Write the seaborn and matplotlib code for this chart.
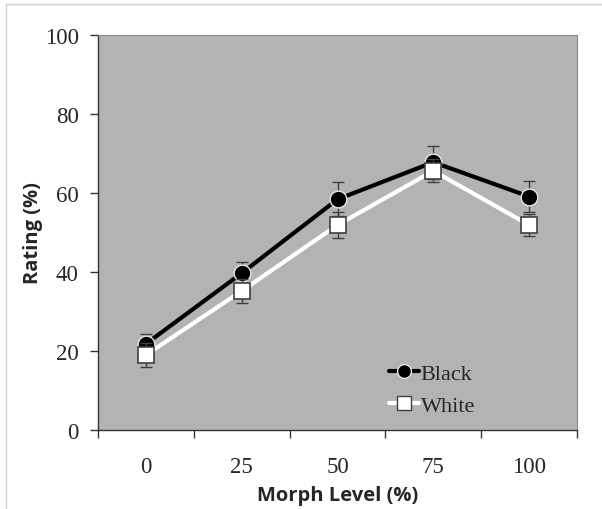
import matplotlib
matplotlib.use("Agg")
import matplotlib.pyplot as plt
import seaborn as sns
import pandas as pd
from matplotlib.lines import Line2D

# values
morph_levels = ["0", "25", "50", "75", "100"]
black_rating = [21.8, 39.7, 58.4, 67.8, 59.1]
black_err = [2.6, 2.9, 4.3, 4.2, 4.0]
white_rating = [19.0, 35.2, 51.9, 65.6, 51.9]
white_err = [3.1, 3.0, 3.4, 2.9, 2.7]

df = pd.DataFrame({
    "Morph Level": morph_levels * 2,
    "Rating": black_rating + white_rating,
    "Face": ["Black"] * 5 + ["White"] * 5,
})

sns.set_style("ticks")
fig = plt.figure(figsize=(6.02, 5.10), dpi=100)
ax = fig.add_axes([98 / 602, 1 - 431 / 510, 479 / 602, 395 / 510])
ax.set_facecolor("#b3b3b3")

# error bars first so markers sit on top
ax.errorbar(morph_levels, black_rating, yerr=black_err, fmt="none",
            ecolor="#404040", elinewidth=1, capsize=4, capthick=1, zorder=2)
ax.errorbar(morph_levels, white_rating, yerr=white_err, fmt="none",
            ecolor="#404040", elinewidth=1, capsize=4, capthick=1, zorder=4)

sns.lineplot(data=df[df["Face"] == "Black"], x="Morph Level", y="Rating",
             color="black", linewidth=3, marker="o", markersize=12,
             markerfacecolor="black", markeredgecolor="#e6e6e6",
             markeredgewidth=1, ax=ax, zorder=3, legend=False)
sns.lineplot(data=df[df["Face"] == "White"], x="Morph Level", y="Rating",
             color="white", linewidth=3, marker="s", markersize=12,
             markerfacecolor="white", markeredgecolor="#404040",
             markeredgewidth=1.2, ax=ax, zorder=5, legend=False)

ax.set_xlim(-0.5, 4.5)
ax.set_ylim(0, 100)
ax.set_yticks([0, 20, 40, 60, 80, 100])

# x ticks sit on category boundaries, labels in the middle
ax.set_xticks([-0.5, 0.5, 1.5, 2.5, 3.5, 4.5])
ax.set_xticklabels([])
ax.set_xticks(range(5), minor=True)
ax.set_xticklabels(morph_levels, minor=True)
ax.tick_params(axis="x", which="major", direction="out", length=6, width=1, color="#333333")
ax.tick_params(axis="x", which="minor", length=0, pad=19)
ax.tick_params(axis="y", direction="out", length=6, width=1, color="#333333", pad=8)

for lab in ax.get_xticklabels(minor=True) + ax.get_yticklabels():
    lab.set_fontfamily("Liberation Serif")
    lab.set_fontsize(16.5)

for side in ["left", "bottom"]:
    ax.spines[side].set_color("#333333")
    ax.spines[side].set_linewidth(1)
for side in ["top", "right"]:
    ax.spines[side].set_visible(True)
    ax.spines[side].set_color("#8c8c8c")
    ax.spines[side].set_linewidth(0.8)

ax.set_xlabel("Morph Level (%)", fontfamily="Open Sans", fontweight="bold", fontsize=14.5)
ax.set_ylabel("Rating (%)", fontfamily="Open Sans", fontweight="bold", fontsize=14.5)
ax.xaxis.set_label_coords(0.5, -0.14)
ax.yaxis.set_label_coords(-0.115, 0.5)

handles = [
    Line2D([], [], color="black", linewidth=3, marker="o", markersize=10,
           markerfacecolor="black", markeredgecolor="#e6e6e6"),
    Line2D([], [], color="white", linewidth=3, marker="s", markersize=10,
           markerfacecolor="white", markeredgecolor="#404040"),
]
leg = ax.legend(handles, ["Black", "White"], loc="lower left",
                bbox_to_anchor=(0.565, -0.015), frameon=False, handlelength=1.35,
                handletextpad=0.1, labelspacing=0.5,
                prop={"family": "Liberation Serif", "size": 16})

# thin frame lines at the top and left edge of the picture
fig.add_artist(Line2D([6 / 602, 6 / 602], [0, 1 - 5 / 510], color="#d0d0d0", linewidth=1))
fig.add_artist(Line2D([6 / 602, 1], [1 - 5 / 510, 1 - 5 / 510], color="#d0d0d0", linewidth=1))

fig.savefig("out.png", dpi=100, facecolor="white")
